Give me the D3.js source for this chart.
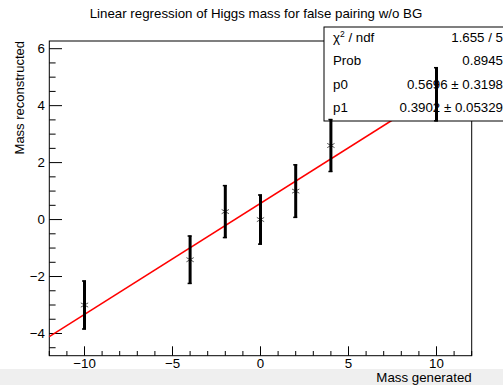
<!DOCTYPE html>
<html>
<head>
<meta charset="utf-8">
<script src="https://cdn.jsdelivr.net/npm/d3@7"></script>
<style>
  body { margin: 0; background: #fff; }
  svg { display: block; font-family: "Liberation Sans", Arial, sans-serif; }
</style>
</head>
<body>
<div id="chart"></div>
<script>
// Measured points (generated vs reconstructed mass)
const massGen = [-10, -4, -2, 0, 2, 4, 10]
const massReco = [-3.0, -1.41, 0.28, 0.0, 1.0, 2.6, 4.4]
const recoErr = [0.86, 0.85, 0.93, 0.88, 0.94, 0.93, 0.95]

// Fit result (pol1)
const p0 = 0.5696
const p1 = 0.3902
const statLabels = ["\u03c7\u00b2 / ndf", "Prob", "p0", "p1"]
const statValues = ["1.655 / 5", "0.8945", "0.5696 \u00b1 0.3198", "0.3902 \u00b1 0.05329"]

const xTicks = [-10, -5, 0, 5, 10]
const yTicks = [-4, -2, 0, 2, 4, 6]

const W = 503, H = 385
const frame = { left: 49.3, right: 471.7, top: 41, bottom: 355.7 }
const fs = 13.3

const svg = d3.select("#chart").append("svg")
  .attr("width", W)
  .attr("height", H)

svg.append("rect").attr("width", W).attr("height", H).attr("fill", "#fff")
svg.append("rect").attr("y", 369).attr("width", W).attr("height", H - 369).attr("fill", "#efefef")

const x = d3.scaleLinear().domain([-12, 12]).range([frame.left, frame.right])
const y = d3.scaleLinear().domain([-4.78, 6.27]).range([frame.bottom, frame.top])

const fmt = d => d < 0 ? "\u2212" + Math.abs(d) : String(d)

// Title
svg.append("text")
  .attr("x", 256).attr("y", 18)
  .attr("text-anchor", "middle")
  .attr("font-size", fs)
  .text("Linear regression of Higgs mass for false pairing w/o BG")

// Frame
svg.append("rect")
  .attr("x", frame.left).attr("y", frame.top)
  .attr("width", frame.right - frame.left)
  .attr("height", frame.bottom - frame.top)
  .attr("fill", "none").attr("stroke", "#000").attr("stroke-width", 1)

// X ticks (inside frame)
const xMinor = d3.range(-12, 12.01, 1)
svg.append("g").selectAll("line").data(xMinor).join("line")
  .attr("x1", d => x(d)).attr("x2", d => x(d))
  .attr("y1", frame.bottom)
  .attr("y2", d => frame.bottom - (d % 5 === 0 ? 9.4 : 4.7))
  .attr("stroke", "#000")

svg.append("g").selectAll("text").data(xTicks).join("text")
  .attr("x", d => x(d)).attr("y", 368)
  .attr("text-anchor", "middle")
  .attr("font-size", fs)
  .text(fmt)

// Y ticks
const yMinor = d3.range(-4.5, 6.01, 0.5)
svg.append("g").selectAll("line").data(yMinor).join("line")
  .attr("x1", frame.left)
  .attr("x2", d => frame.left + (Math.abs(d % 2) < 1e-9 ? 12.7 : 6.3))
  .attr("y1", d => y(d)).attr("y2", d => y(d))
  .attr("stroke", "#000")

svg.append("g").selectAll("text").data(yTicks).join("text")
  .attr("x", 45).attr("y", d => y(d) + 4.7)
  .attr("text-anchor", "end")
  .attr("font-size", fs)
  .text(fmt)

// Axis titles
svg.append("text")
  .attr("transform", `translate(24,${frame.top}) rotate(-90)`)
  .attr("text-anchor", "end")
  .attr("font-size", 13)
  .text("Mass reconstructed")

svg.append("text")
  .attr("x", frame.right).attr("y", 382)
  .attr("text-anchor", "end")
  .attr("font-size", fs)
  .text("Mass generated")

// Fit line
svg.append("line")
  .attr("x1", x(-12)).attr("y1", y(p0 + p1 * -12))
  .attr("x2", x(12)).attr("y2", y(p0 + p1 * 12))
  .attr("stroke", "#ff0000").attr("stroke-width", 1.5)

const pts = massGen.map((g, i) => ({ g, r: massReco[i], e: recoErr[i] }))

// Markers (asterisk)
const star = d3.symbol().type(d3.symbolAsterisk).size(50)
svg.append("g").selectAll("path").data(pts.filter(p => p.g < 8)).join("path")
  .attr("transform", p => `translate(${x(p.g)},${y(p.r)})`)
  .attr("d", star)
  .attr("fill", "none").attr("stroke", "#555").attr("stroke-width", 1)

// Stat box
const box = { x: 324, y: 27, w: 190, h: 94 }
svg.append("rect")
  .attr("x", box.x).attr("y", box.y).attr("width", box.w).attr("height", box.h)
  .attr("fill", "#fff").attr("stroke", "#000").attr("stroke-width", 1)

statLabels.forEach((l, i) => {
  const ty = box.y + 15 + i * 23.3
  const t = svg.append("text")
    .attr("x", 333).attr("y", ty)
    .attr("font-size", fs)
  if (i === 0) {
    t.append("tspan").text("\u03c7")
    t.append("tspan").attr("font-size", 8.5).attr("dy", -5).text("2")
    t.append("tspan").attr("dy", 5).text(" / ndf")
  } else {
    t.text(l)
  }
  svg.append("text")
    .attr("x", 503).attr("y", ty)
    .attr("text-anchor", "end")
    .attr("font-size", fs)
    .text(statValues[i])
})

// Error bars (drawn last, over the box)
const bars = svg.append("g")
pts.forEach(p => {
  const xp = x(p.g)
  const yt = y(p.r + p.e), yb = y(p.r - p.e)
  bars.append("line")
    .attr("x1", xp).attr("x2", xp).attr("y1", yt).attr("y2", yb)
    .attr("stroke", "#000").attr("stroke-width", 3)
  bars.append("line")
    .attr("x1", xp - 2.5).attr("x2", xp + 1.5).attr("y1", yt + 0.5).attr("y2", yt + 0.5)
    .attr("stroke", "#000").attr("stroke-width", 1.5)
  bars.append("line")
    .attr("x1", xp - 2.5).attr("x2", xp + 1.5).attr("y1", yb - 0.5).attr("y2", yb - 0.5)
    .attr("stroke", "#000").attr("stroke-width", 1.5)
})
</script>
</body>
</html>
